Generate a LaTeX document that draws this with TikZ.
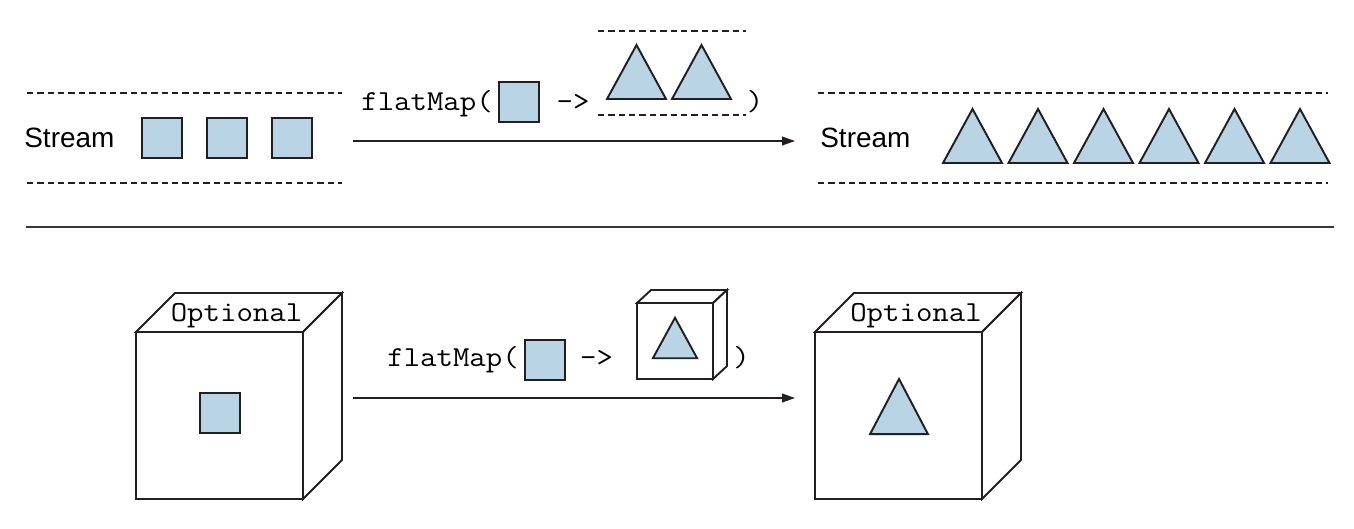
\documentclass[tikz,border=0pt]{standalone}
\usepackage{fontspec}
\setmainfont{Liberation Sans}
\setmonofont{Latin Modern Mono}[FakeStretch=1.1]
\usetikzlibrary{arrows.meta}
\definecolor{ink}{RGB}{35,31,32}
\definecolor{boxfill}{RGB}{185,212,228}
\tikzset{
 item/.style={draw=ink, fill=boxfill, line width=1.1pt, line join=miter},
 sq/.style={item, minimum size=0.8cm, inner sep=0pt},
 dashline/.style={draw=ink, line width=0.8pt, dash pattern=on 3.6pt off 2.3pt},
 flow/.style={draw=ink, line width=0.9pt, -{Triangle[length=7.4pt,width=5pt]}},
 cubeline/.style={draw=ink, line width=1.1pt, line join=miter, fill=white},
 streamlabel/.style={font=\fontsize{15.9}{18}\selectfont, inner sep=0pt, anchor=base west},
 code/.style={font=\ttfamily\fontsize{16.5}{19}\selectfont, inner sep=0pt, anchor=base},
 tri/.pic={\path[item] (-29.5,27) -- (29.5,27) -- (0,-27) -- cycle;}
}
\begin{document}
\begin{tikzpicture}[x=0.02cm,y=-0.02cm]
\path[use as bounding box] (0,0) rectangle (1354,528);

% ---------- top: Stream ----------
\draw[dashline] (27,93) -- (342,93);
\draw[dashline] (27,183) -- (342,183);
\node[streamlabel] (st1) at (24,147) {Stream};
\node[sq] (s1) at (162,138) {};
\node[sq] (s2) at (227,138) {};
\node[sq] (s3) at (292,138) {};

\node[code, anchor=base west] (fm1) at (361,110) {flatMap(};
\node[sq] (s4) at (519,102) {};
\node[code] (ar1) at (573,110) {->};
\draw[dashline] (598,31) -- (746,31);
\draw[dashline] (598,115) -- (746,115);
\pic at (636.5,72) {tri};
\pic at (701.5,72) {tri};
\node[code] (cp1) at (755,110) {)};

\coordinate (a1s) at (353,141);
\coordinate (a1e) at (795,141);
\draw[flow] (a1s) -- (a1e);

\draw[dashline] (818,93) -- (1328,93);
\draw[dashline] (818,183) -- (1328,183);
\node[streamlabel] (st2) at (820,147) {Stream};
\foreach \cx in {972.5,1038,1103.5,1169,1234.5,1300}
  \pic at (\cx,136) {tri};

% ---------- separator ----------
\draw[draw=ink!90, line width=1.1pt] (26,227) -- (1334,227);

% ---------- bottom: Optional ----------
% left cube
\path[cubeline] (136,332) rectangle (303,499);
\path[cubeline] (136,332) -- (175,293) -- (342,293) -- (303,332) -- cycle;
\path[cubeline] (303,332) -- (342,293) -- (342,460) -- (303,499) -- cycle;
\node[code] (op1) at (236.5,321) {Optional};
\node[sq] (s5) at (220,413) {};

\node[code, anchor=base west] (fm2) at (387,366) {flatMap(};
\node[sq] (s6) at (545,360) {};
\node[code] (ar2) at (596.5,366) {->};
% small cube
\path[cubeline] (637,303) rectangle (713,379);
\path[cubeline] (637,303) -- (651,290) -- (727,290) -- (713,303) -- cycle;
\path[cubeline] (713,303) -- (727,290) -- (727,366) -- (713,379) -- cycle;
\pic[scale=0.75] at (675,338) {tri};
\node[code] (cp2) at (741.5,366) {)};

\coordinate (a2s) at (353,398);
\coordinate (a2e) at (795,398);
\draw[flow] (a2s) -- (a2e);

% right cube
\path[cubeline] (815,332) rectangle (982,499);
\path[cubeline] (815,332) -- (854,293) -- (1021,293) -- (982,332) -- cycle;
\path[cubeline] (982,332) -- (1021,293) -- (1021,460) -- (982,499) -- cycle;
\node[code] (op2) at (916,321) {Optional};
\pic[xscale=0.98, yscale=1.02] at (899,406.5) {tri};
\end{tikzpicture}
\end{document}
